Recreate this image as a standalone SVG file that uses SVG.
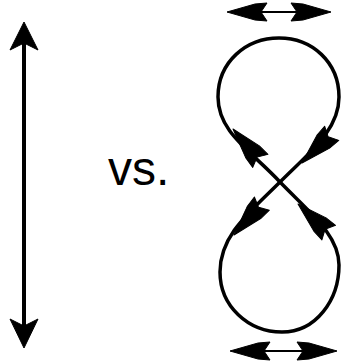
<svg xmlns="http://www.w3.org/2000/svg" width="343" height="363" viewBox="0 0 343 363">
<style>
.shaft{stroke:#000;stroke-width:4;fill:none}
.loop{stroke:#000;stroke-width:3.5;fill:none;stroke-linecap:round;stroke-linejoin:round}
.thin{stroke:#000;stroke-width:2;fill:none}
.head{fill:#000;stroke:#000;stroke-width:1;stroke-linejoin:round}
.lbl{font-family:"Liberation Sans",Arial,sans-serif;font-size:48px;fill:#000}
</style>
<defs>
<polygon id="bh" points="0,0 -30,-9 -42,-10 -37,0 -42,10 -30,9"/>
<polygon id="hh" points="0,0 -28,-8 -40,-9 -34,0 -40,9 -28,8"/>
</defs>
<rect width="343" height="363" fill="#fff"/>
<g id="straight-arrow">
<line class="shaft" x1="24" y1="40" x2="24" y2="330"/>
<polygon class="head" points="24,22 38,50 24,43 10,50"/>
<polygon class="head" points="24,348 38,319 24,326 10,319"/>
</g>
<g id="label-vs">
<text class="lbl" x="108" y="185">vs.</text>
</g>
<g id="figure-eight">
<g id="connectors">
<path class="loop" d="M280,182 C250,150 218,132 218,97 C218,62 246,38 279,38 C312,38 339,62 339,97 C339,130 310,152 280,182"/>
<path class="loop" d="M280,182 C250,212 220,235 220,272 C220,306 248,332 282,332 C316,332 339,300 339,265 C339,235 310,213 280,182"/>
<line class="thin" x1="250" y1="12" x2="310" y2="12"/>
<line class="thin" x1="252" y1="351" x2="316" y2="351"/>
</g>
<use href="#bh" class="head" transform="translate(233,129) rotate(-130.6)"/>
<use href="#bh" class="head" transform="translate(302,163) rotate(135)"/>
<use href="#bh" class="head" transform="translate(234,235) rotate(131.6)"/>
<use href="#bh" class="head" transform="translate(298,204) rotate(-137)"/>
<use href="#hh" class="head" transform="translate(227,12) rotate(180)"/>
<use href="#hh" class="head" transform="translate(331,12)"/>
<use href="#hh" class="head" transform="translate(230,351) rotate(180)"/>
<use href="#hh" class="head" transform="translate(337,351)"/>
</g>
</svg>
